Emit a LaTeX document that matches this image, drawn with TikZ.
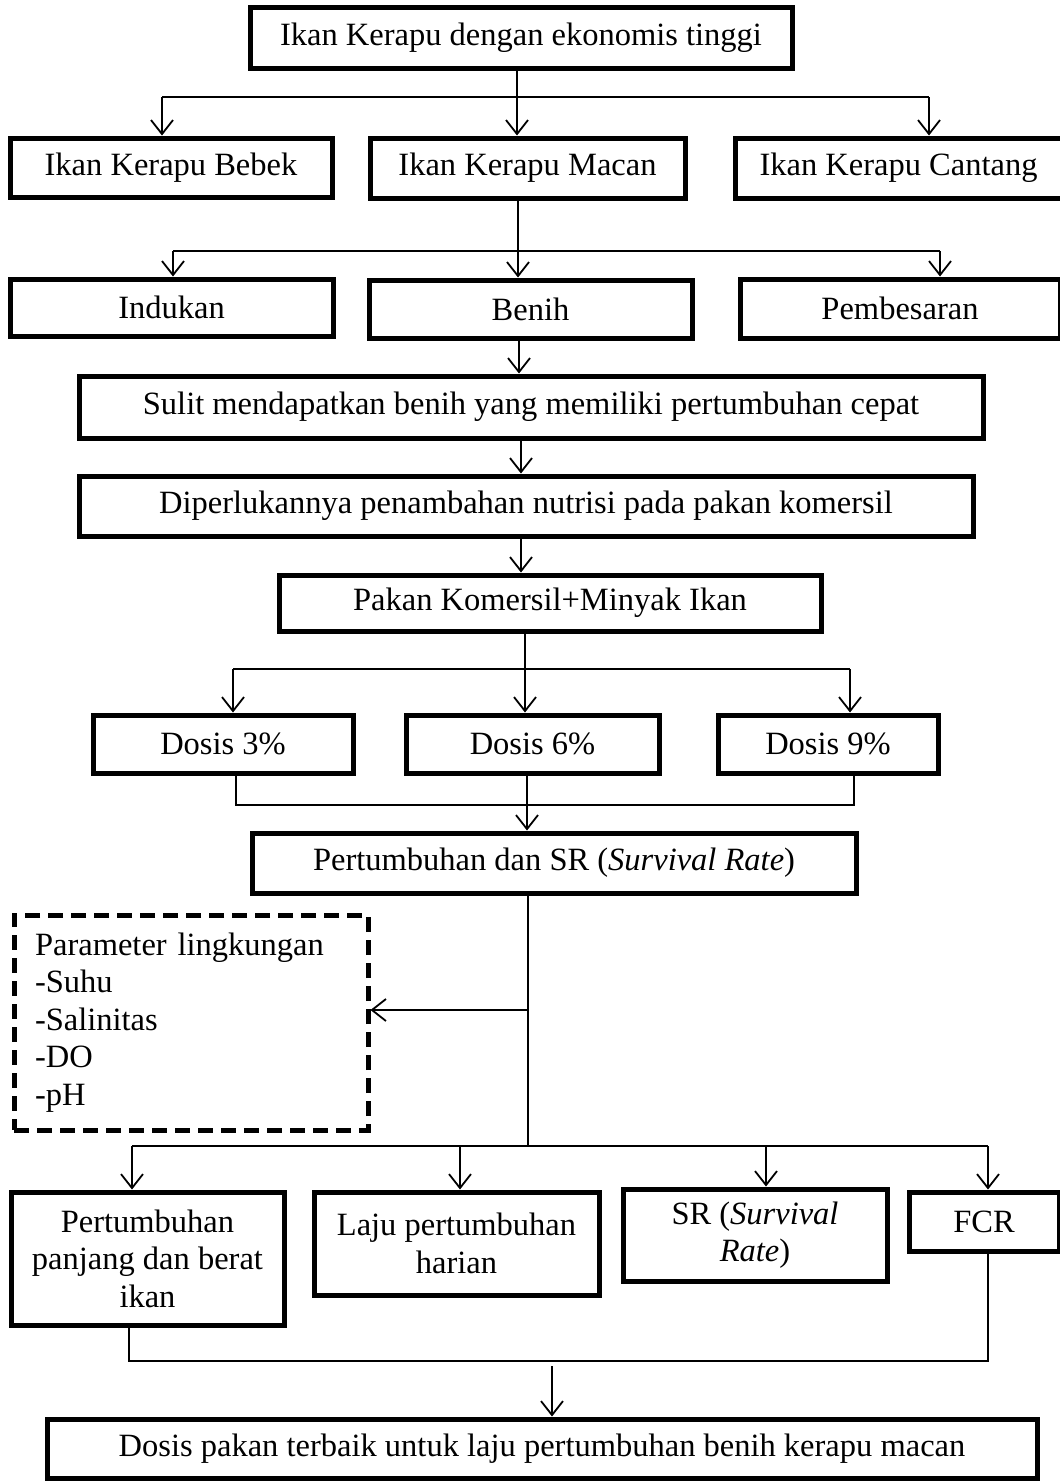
\documentclass[tikz,border=0pt]{standalone}
\usepackage{fontspec}
\setmainfont{Liberation Serif}
\usetikzlibrary{arrows.meta,positioning,calc}

\begin{document}
\begin{tikzpicture}[x=1pt,y=-1pt,
        box/.style={draw, line width=5pt, shape=rectangle, anchor=center, inner sep=0pt,
            font=\fontsize{32.5}{37.5}\selectfont, align=center},
        dbox/.style={box, dash pattern=on 15pt off 8pt},
        line/.style={line width=1.8pt},
        arr/.style={line, -{Straight Barb[length=14pt,width=22pt,line width=1.8pt]}}]
        \useasboundingbox (0,0) rectangle (1060,1481);
        \node[box, minimum width=542pt, minimum height=61pt] (top) at (521,37.5) {Ikan Kerapu dengan ekonomis tinggi};
        \node[box, minimum width=322pt, minimum height=59pt] (bebek) at (171,167.5) {Ikan Kerapu Bebek};
        \node[box, minimum width=315pt, minimum height=60pt] (macan) at (527.5,168) {Ikan Kerapu Macan};
        \node[box, minimum width=327pt, minimum height=60pt] (cantang) at (898.5,168) {Ikan Kerapu Cantang};
        \node[box, minimum width=323pt, minimum height=57pt] (indukan) at (171.5,307.5) {Indukan};
        \node[box, minimum width=323pt, minimum height=58pt] (benih) at (530.5,309) {Benih};
        \node[box, minimum width=320pt, minimum height=59pt] (besar) at (900,308.5) {Pembesaran};
        \node[box, minimum width=904pt, minimum height=62pt] (sulit) at (531,407) {Sulit mendapatkan benih yang memiliki pertumbuhan cepat};
        \node[box, minimum width=894pt, minimum height=60pt] (perlu) at (526,506) {Diperlukannya penambahan nutrisi pada pakan komersil};
        \node[box, minimum width=542pt, minimum height=56pt] (pakan) at (550,603) {Pakan Komersil+Minyak Ikan};
        \node[box, minimum width=260pt, minimum height=58pt] (dosis3) at (223,744) {Dosis 3\%};
        \node[box, minimum width=253pt, minimum height=58pt] (dosis6) at (532.5,744) {Dosis 6\%};
        \node[box, minimum width=220pt, minimum height=58pt] (dosis9) at (828,744) {Dosis 9\%};
        \node[box, minimum width=604pt, minimum height=60pt] (tumbuh) at (554,863) {Pertumbuhan dan SR (\textit{Survival Rate})};
        \node[dbox, minimum width=354pt, minimum height=215pt, text width=312pt, inner xsep=21pt, align=left] (param) at (191,1022.5)
            {Parameter lingkungan\\-Suhu\\-Salinitas\\-DO\\-pH};
        \node[box, minimum width=273pt, minimum height=133pt] (panjang) at (147.5,1258.5) {Pertumbuhan\\panjang dan berat\\ikan};
        \node[box, minimum width=285pt, minimum height=103pt] (laju) at (456.5,1243.5) {Laju pertumbuhan\\harian};
        \node[box, minimum width=264pt, minimum height=92pt] (sr) at (755,1235) {SR (\textit{Survival}\\\textit{Rate})};
        \node[box, minimum width=150pt, minimum height=59pt] (fcr) at (984,1221.5) {FCR};
        \node[box, minimum width=990pt, minimum height=59pt] (best) at (542,1448.5) {Dosis pakan terbaik untuk laju pertumbuhan benih kerapu macan};

        \coordinate (a1) at (162,97);
        \coordinate (a2) at (517,97);
        \coordinate (a3) at (929,97);
        \draw[line] (a1) -- (a3);
        \draw[arr] (top.south -| a2) -- (a2 |- macan.north);
        \draw[arr] (a1) -- (a1 |- bebek.north);
        \draw[arr] (a3) -- (a3 |- cantang.north);

        \coordinate (b1) at (173,251);
        \coordinate (b2) at (518,251);
        \coordinate (b3) at (940,251);
        \draw[line] (b1) -- (b3);
        \draw[arr] (macan.south -| b2) -- (b2 |- benih.north);
        \draw[arr] (b1) -- (b1 |- indukan.north);
        \draw[arr] (b3) -- (b3 |- besar.north);

        \coordinate (c1) at (519,0);
        \coordinate (c2) at (521,0);
        \draw[arr] (benih.south -| c1) -- (c1 |- sulit.north);
        \draw[arr] (sulit.south -| c2) -- (c2 |- perlu.north);
        \draw[arr] (perlu.south -| c2) -- (c2 |- pakan.north);

        \coordinate (d1) at (233,669);
        \coordinate (d2) at (525,669);
        \coordinate (d3) at (850,669);
        \draw[line] (d1) -- (d3);
        \draw[arr] (pakan.south -| d2) -- (d2 |- dosis6.north);
        \draw[arr] (d1) -- (d1 |- dosis3.north);
        \draw[arr] (d3) -- (d3 |- dosis9.north);

        \coordinate (e1) at (236,805);
        \coordinate (e2) at (527,805);
        \coordinate (e3) at (854,805);
        \draw[line] (dosis3.south -| e1) -- (e1) -- (e3) -- (dosis9.south -| e3);
        \draw[arr] (dosis6.south -| e2) -- (e2 |- tumbuh.north);

        \coordinate (f0) at (528,1010);
        \coordinate (f1) at (132,1146);
        \coordinate (f2) at (460,1146);
        \coordinate (f3) at (766,1146);
        \coordinate (f4) at (988,1146);
        \draw[line] (tumbuh.south -| f0) -- (f0 |- f1);
        \draw[arr] (f0) -- (param.east |- f0);
        \draw[line] (f1) -- (f4);
        \draw[arr] (f1) -- (f1 |- panjang.north);
        \draw[arr] (f2) -- (f2 |- laju.north);
        \draw[arr] (f3) -- (f3 |- sr.north);
        \draw[arr] (f4) -- (f4 |- fcr.north);

        \coordinate (g1) at (129,1361);
        \coordinate (g2) at (988,1361);
        \coordinate (g3) at (552,1366);
        \draw[line] (panjang.south -| g1) -- (g1) -- (g2) -- (fcr.south -| g2);
        \draw[arr] (g3) -- (g3 |- best.north);
\end{tikzpicture}
\end{document}
